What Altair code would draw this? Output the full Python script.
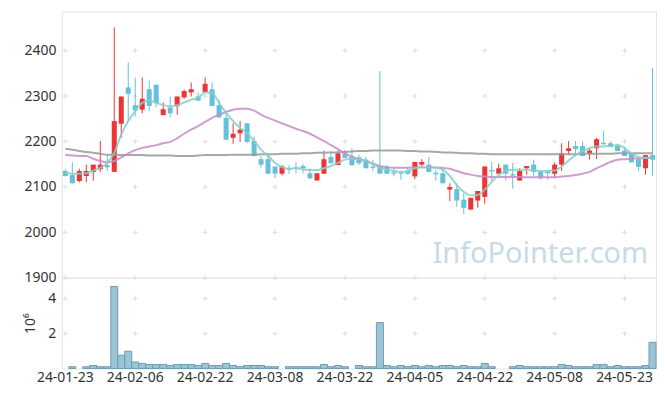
import altair as alt
import pandas as pd

dates = [
    "24-01-23", "24-01-24", "24-01-25", "24-01-26", "24-01-29", "24-01-30", "24-01-31",
    "24-02-01", "24-02-02", "24-02-05", "24-02-06", "24-02-07", "24-02-08", "24-02-13",
    "24-02-14", "24-02-15", "24-02-16", "24-02-19", "24-02-20", "24-02-21", "24-02-22",
    "24-02-23", "24-02-26", "24-02-27", "24-02-28", "24-02-29",
    "24-03-04", "24-03-05", "24-03-06", "24-03-07", "24-03-08", "24-03-11", "24-03-12",
    "24-03-13", "24-03-14", "24-03-15", "24-03-18", "24-03-19", "24-03-20", "24-03-21",
    "24-03-22", "24-03-25", "24-03-26", "24-03-27", "24-03-28", "24-03-29",
    "24-04-01", "24-04-02", "24-04-03", "24-04-04", "24-04-05", "24-04-08", "24-04-09",
    "24-04-11", "24-04-12", "24-04-15", "24-04-16", "24-04-17", "24-04-18", "24-04-19",
    "24-04-22", "24-04-23", "24-04-24", "24-04-25", "24-04-26", "24-04-29", "24-04-30",
    "24-05-02", "24-05-03", "24-05-07", "24-05-08", "24-05-09", "24-05-10", "24-05-13",
    "24-05-14", "24-05-16", "24-05-17", "24-05-20", "24-05-21", "24-05-22", "24-05-23",
    "24-05-24", "24-05-27", "24-05-28", "24-05-29",
]

opens = [2135, 2126, 2113, 2124, 2133, 2139, 2148, 2133, 2239, 2319, 2280, 2270, 2315, 2325,
         2258, 2275, 2278, 2297, 2308, 2299, 2309, 2315, 2280, 2252, 2208, 2218, 2240, 2201,
         2161, 2161, 2145, 2129, 2141, 2143, 2146, 2130, 2114, 2129, 2166, 2148, 2174, 2166,
         2165, 2160, 2145, 2145, 2145, 2132, 2131, 2135, 2123, 2149, 2149, 2131, 2130, 2094,
         2095, 2072, 2050, 2070, 2078, 2137, 2129, 2149, 2128, 2114, 2141, 2149, 2135, 2133,
         2129, 2149, 2179, 2190, 2190, 2173, 2185, 2197, 2196, 2190, 2180, 2173, 2161, 2141,
         2170]
highs = [2140, 2154, 2140, 2149, 2149, 2201, 2172, 2451, 2299, 2374, 2341, 2341, 2334, 2325,
         2286, 2299, 2299, 2314, 2330, 2308, 2341, 2330, 2292, 2265, 2240, 2245, 2240, 2211,
         2168, 2173, 2145, 2148, 2148, 2154, 2151, 2141, 2130, 2180, 2179, 2180, 2182, 2185,
         2171, 2166, 2160, 2355, 2148, 2141, 2136, 2144, 2155, 2161, 2166, 2138, 2141, 2108,
         2108, 2086, 2076, 2091, 2145, 2155, 2151, 2149, 2153, 2141, 2146, 2160, 2135, 2135,
         2154, 2196, 2201, 2201, 2201, 2186, 2208, 2224, 2200, 2195, 2189, 2173, 2161, 2170,
         2362]
lows = [2123, 2108, 2110, 2110, 2114, 2133, 2135, 2133, 2208, 2245, 2255, 2262, 2267, 2275,
        2258, 2253, 2259, 2294, 2299, 2289, 2308, 2278, 2253, 2204, 2195, 2199, 2196, 2168,
        2142, 2129, 2119, 2125, 2129, 2130, 2129, 2117, 2114, 2129, 2152, 2148, 2164, 2146,
        2148, 2141, 2135, 2129, 2129, 2123, 2116, 2127, 2117, 2145, 2133, 2114, 2108, 2069,
        2056, 2040, 2050, 2054, 2063, 2114, 2129, 2114, 2096, 2114, 2127, 2124, 2116, 2116,
        2119, 2135, 2170, 2171, 2168, 2160, 2161, 2192, 2188, 2179, 2168, 2154, 2135, 2127,
        2125]
closes = [2124, 2108, 2135, 2135, 2149, 2149, 2143, 2245, 2299, 2305, 2268, 2294, 2278, 2284,
          2271, 2262, 2299, 2311, 2315, 2290, 2327, 2278, 2253, 2204, 2217, 2226, 2199, 2168,
          2149, 2129, 2129, 2145, 2138, 2141, 2141, 2119, 2130, 2161, 2152, 2174, 2164, 2148,
          2152, 2141, 2142, 2129, 2129, 2129, 2129, 2129, 2155, 2155, 2133, 2128, 2108, 2100,
          2070, 2054, 2076, 2091, 2145, 2134, 2141, 2129, 2125, 2135, 2146, 2133, 2119, 2130,
          2149, 2174, 2185, 2183, 2168, 2180, 2205, 2194, 2188, 2179, 2168, 2154, 2144, 2170,
          2160]

volumes = [0, 0.1, 0, 0.1, 0.17, 0.1, 0.1, 4.7, 0.76, 0.99, 0.37, 0.29, 0.23, 0.23, 0.23,
           0.17, 0.23, 0.23, 0.23, 0.17, 0.29, 0.17, 0.17, 0.29, 0.17, 0.1, 0.17, 0.17, 0.17,
           0.1, 0.1, 0, 0.1, 0.1, 0.1, 0.1, 0.1, 0.23, 0.1, 0.17, 0.1, 0, 0.17, 0.1, 0.1, 2.63,
           0.17, 0.1, 0.17, 0.1, 0.17, 0.1, 0.17, 0.1, 0.17, 0.17, 0.1, 0.17, 0.1, 0.1, 0.29,
           0.1, 0, 0, 0.1, 0.17, 0.1, 0.1, 0.1, 0.1, 0.1, 0.23, 0.17, 0.1, 0.1, 0.1, 0.23,
           0.23, 0.1, 0.17, 0.1, 0.1, 0.1, 0.17, 1.5]

ma_short = [2131, 2129, 2129, 2130, 2136, 2142, 2153, 2175, 2215, 2245, 2267, 2285, 2290, 2285,
            2280, 2278, 2280, 2286, 2292, 2296, 2308, 2306, 2285, 2263, 2245, 2230, 2219, 2201,
            2182, 2168, 2153, 2143, 2140, 2141, 2139, 2137, 2137, 2141, 2146, 2153, 2160, 2162,
            2161, 2157, 2151, 2142, 2138, 2135, 2133, 2135, 2141, 2143, 2143, 2142, 2138, 2124,
            2104, 2089, 2081, 2082, 2094, 2111, 2126, 2135, 2138, 2138, 2138, 2136, 2135, 2135,
            2136, 2145, 2158, 2170, 2179, 2185, 2189, 2189, 2190, 2192, 2185, 2174, 2166, 2164,
            2164]
ma_mid = [2171, 2169, 2168, 2168, 2162, 2157, 2154, 2157, 2165, 2174, 2181, 2186, 2189, 2192,
          2196, 2199, 2207, 2217, 2226, 2234, 2243, 2252, 2259, 2265, 2270, 2272, 2272, 2268,
          2259, 2252, 2246, 2240, 2234, 2228, 2223, 2217, 2209, 2201, 2192, 2183, 2174, 2167,
          2161, 2157, 2151, 2146, 2143, 2142, 2142, 2142, 2143, 2143, 2143, 2143, 2142, 2140,
          2135, 2130, 2127, 2124, 2123, 2122, 2122, 2122, 2122, 2122, 2121, 2121, 2121, 2121,
          2121, 2123, 2124, 2126, 2129, 2133, 2141, 2148, 2155, 2160, 2161, 2162, 2163, 2163,
          2164]
ma_long = [2184, 2182, 2179, 2177, 2175, 2173, 2171, 2171, 2170, 2170, 2170, 2170, 2169, 2169,
           2169, 2169, 2168, 2168, 2168, 2169, 2170, 2170, 2170, 2170, 2171, 2171, 2171, 2171,
           2172, 2172, 2172, 2173, 2173, 2173, 2174, 2174, 2175, 2175, 2176, 2176, 2177, 2178,
           2179, 2179, 2180, 2180, 2180, 2180, 2180, 2179, 2179, 2178, 2178, 2177, 2176, 2176,
           2175, 2174, 2174, 2173, 2173, 2172, 2172, 2172, 2172, 2172, 2172, 2172, 2172, 2172,
           2172, 2172, 2172, 2172, 2173, 2173, 2173, 2173, 2173, 2174, 2174, 2174, 2174, 2174,
           2174]

x_labels = ["24-01-23", "24-02-06", "24-02-22", "24-03-08", "24-03-22",
            "24-04-05", "24-04-22", "24-05-08", "24-05-23"]
price_ticks = [1900, 2000, 2100, 2200, 2300, 2400]
volume_ticks = [2, 4]

df = pd.DataFrame({
    "date": dates, "open": opens, "high": highs, "low": lows, "close": closes,
    "volume": volumes, "ma_short": ma_short, "ma_mid": ma_mid, "ma_long": ma_long,
})
df["dir"] = ["up" if c >= o else "down" for o, c in zip(opens, closes)]

price_grid = pd.DataFrame([(d, p) for d in x_labels for p in price_ticks], columns=["date", "v"])
vol_grid = pd.DataFrame([(d, p) for d in x_labels for p in volume_ticks], columns=["date", "v"])

RED = "#ee3535"
BLUE = "#66c0dc"
FONT = "Noto Sans"
FS = 14
W = 596

xscale = alt.Scale(type="band", domain=dates, paddingInner=0, paddingOuter=0)
x_main = alt.X("date:O", scale=xscale, axis=None)
yscale = alt.Scale(domain=[1900, 2486], nice=False, zero=False)
y_axis = alt.Axis(values=price_ticks, format="d", ticks=False, domain=False, grid=False,
                  labelPadding=6, minExtent=53, maxExtent=53, title=None,
                  labelFont=FONT, labelFontSize=FS, labelColor="#333333")
color = alt.Color("dir:N", scale=alt.Scale(domain=["up", "down"], range=[RED, BLUE]), legend=None)

cross = "M-1,0H1M0,-1V1"

base = alt.Chart(df)
grid_main = alt.Chart(price_grid).mark_point(shape=cross, size=25, stroke="#dcdcdc",
                                             strokeWidth=1, filled=False, opacity=1).encode(
    x=x_main, y=alt.Y("v:Q", scale=yscale, axis=y_axis))
wicks = base.mark_rule(strokeWidth=1).encode(
    x=x_main, y=alt.Y("low:Q", scale=yscale, axis=y_axis), y2="high:Q", color=color)
bodies = base.mark_bar(width=alt.RelativeBandSize(0.72)).encode(
    x=x_main, y=alt.Y("open:Q", scale=yscale), y2="close:Q", color=color)
line_long = base.mark_line(color="#999999", strokeWidth=2, opacity=0.85, interpolate="monotone").encode(
    x=x_main, y=alt.Y("ma_long:Q", scale=yscale))
line_mid = base.mark_line(color="#c98cc6", strokeWidth=2, opacity=0.85, interpolate="monotone").encode(
    x=x_main, y=alt.Y("ma_mid:Q", scale=yscale))
line_short = base.mark_line(color="#86cfc6", strokeWidth=2, opacity=0.85, interpolate="monotone").encode(
    x=x_main, y=alt.Y("ma_short:Q", scale=yscale))
watermark = alt.Chart(pd.DataFrame({"t": ["InfoPointer.com"]})).mark_text(
    align="right", baseline="alphabetic", fontSize=29, font=FONT, color="#c6dbe6").encode(
    text="t:N", x=alt.value(588), y=alt.value(252))

main = alt.layer(grid_main, watermark, wicks, bodies, line_long, line_mid, line_short).properties(
    width=W, height=267)

x_vol = alt.X("date:O", scale=xscale, axis=alt.Axis(values=x_labels, labelAngle=0, ticks=False,
                                                    domain=False, grid=False, title=None,
                                                    labelPadding=2, labelFont=FONT,
                                                    labelFontSize=FS, labelColor="#333333"))
vscale = alt.Scale(domain=[0, 5.2], nice=False)
v_axis = alt.Axis(values=volume_ticks, format="d", ticks=False, domain=False, grid=False,
                  labelPadding=6, labelFont=FONT, labelFontSize=FS, labelColor="#333333",
                  title="10⁶", titlePadding=10, titleFontWeight="normal", titleFontSize=FS,
                  titleColor="#333333", titleFont=FONT)
grid_vol = alt.Chart(vol_grid).mark_point(shape=cross, size=25, stroke="#dcdcdc", strokeWidth=1,
                                          filled=False, opacity=1).encode(
    x=x_vol, y=alt.Y("v:Q", scale=vscale, axis=v_axis))
vol_bars = base.transform_filter("datum.volume > 0").mark_bar(
    fill="#9cc3d6", stroke="#6c9db5", strokeWidth=1).encode(
    x=x_vol, y=alt.Y("volume:Q", scale=vscale, axis=v_axis))
vol = alt.layer(grid_vol, vol_bars).properties(width=W, height=91)

chart = alt.vconcat(main, vol, spacing=0, bounds="flush").properties(
    padding={"left": 0, "top": 2, "right": 0, "bottom": 0}, background="white"
).configure_view(stroke="#e4e4e4", strokeWidth=1)

chart.save("out.html", embed_options={"renderer": "svg", "actions": False})
